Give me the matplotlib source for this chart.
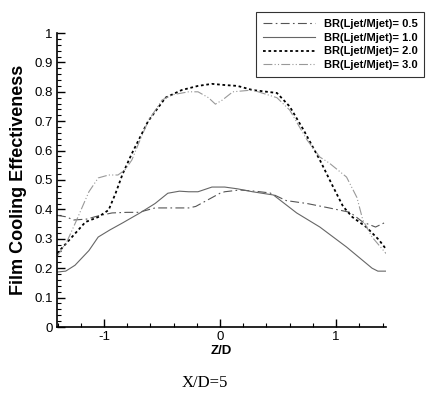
import matplotlib
matplotlib.use("Agg")
import matplotlib.pyplot as plt
from matplotlib.ticker import MultipleLocator, FuncFormatter

# ---- data ----
z_05 = [-1.405, -1.33, -1.26, -1.15, -1.05, -0.93, -0.80, -0.70, -0.56, -0.40, -0.27, -0.21,
        -0.14, -0.07, 0.0, 0.04, 0.17, 0.30, 0.43, 0.57, 0.75, 0.94, 1.12, 1.23, 1.34, 1.43]
e_05 = [0.38, 0.375, 0.364, 0.367, 0.378, 0.388, 0.39, 0.39, 0.405, 0.405, 0.405, 0.41,
        0.425, 0.44, 0.455, 0.46, 0.466, 0.462, 0.456, 0.43, 0.42, 0.405, 0.39, 0.357, 0.34, 0.357]

z_10 = [-1.405, -1.33, -1.25, -1.13, -1.05, -0.95, -0.84, -0.69, -0.56, -0.45, -0.35, -0.27,
        -0.19, -0.07, 0.04, 0.15, 0.28, 0.46, 0.66, 0.86, 1.09, 1.31, 1.36, 1.43]
e_10 = [0.187, 0.19, 0.21, 0.26, 0.306, 0.33, 0.354, 0.388, 0.42, 0.455, 0.462, 0.46,
        0.46, 0.476, 0.476, 0.47, 0.46, 0.449, 0.388, 0.34, 0.272, 0.20, 0.19, 0.19]

z_20 = [-1.405, -1.29, -1.16, -1.05, -0.96, -0.90, -0.84, -0.76, -0.62, -0.47, -0.33, -0.19,
        -0.07, 0.04, 0.15, 0.28, 0.49, 0.60, 0.72, 0.86, 0.97, 1.06, 1.14, 1.26, 1.37, 1.43]
e_20 = [0.25, 0.30, 0.357, 0.374, 0.398, 0.455, 0.52, 0.59, 0.70, 0.78, 0.806, 0.82,
        0.827, 0.823, 0.82, 0.806, 0.796, 0.75, 0.67, 0.568, 0.48, 0.41, 0.374, 0.34, 0.296, 0.265]

z_30 = [-1.405, -1.32, -1.24, -1.13, -1.05, -0.96, -0.88, -0.82, -0.76, -0.70, -0.62, -0.50,
        -0.41, -0.27, -0.19, -0.10, -0.04, 0.02, 0.11, 0.28, 0.49, 0.60, 0.75, 0.86, 0.94,
        1.09, 1.18, 1.23, 1.31, 1.43]
e_30 = [0.24, 0.29, 0.36, 0.46, 0.507, 0.517, 0.517, 0.534, 0.568, 0.626, 0.70, 0.772,
        0.79, 0.80, 0.80, 0.78, 0.758, 0.772, 0.80, 0.806, 0.78, 0.738, 0.636, 0.578, 0.558,
        0.51, 0.44, 0.364, 0.306, 0.25]

labels = ["BR(Ljet/Mjet)= 0.5", "BR(Ljet/Mjet)= 1.0", "BR(Ljet/Mjet)= 2.0", "BR(Ljet/Mjet)= 3.0"]
x_ticks = [-1, 0, 1]
y_ticks = [0, 0.1, 0.2, 0.3, 0.4, 0.5, 0.6, 0.7, 0.8, 0.9, 1.0]

plt.rcParams['font.family'] = ['Liberation Sans', 'DejaVu Sans']

fig = plt.figure(figsize=(4.26, 4.0), dpi=100)
ax = fig.add_axes([57/426, 1-327/400, (386-57)/426, (327-33)/400])

ax.plot(z_05, e_05, color='#555555', lw=0.8, dashes=[8, 3, 1.5, 3], label=labels[0])
ax.plot(z_10, e_10, color='#666666', lw=0.8, label=labels[1])
ax.plot(z_20, e_20, color='black', lw=1.3, dashes=[1.5, 1.5], label=labels[2])
ax.plot(z_30, e_30, color='#999999', lw=0.8, dashes=[8, 2, 1, 2, 1, 2], label=labels[3])

ax.set_xlim(-1.405, 1.43)
ax.set_ylim(0, 1)
ax.set_xticks(x_ticks)
ax.set_yticks(y_ticks)
ax.xaxis.set_minor_locator(MultipleLocator(0.2))
ax.yaxis.set_minor_locator(MultipleLocator(0.02))
ax.yaxis.set_major_formatter(FuncFormatter(lambda v, p: f"{v:g}"))
ax.xaxis.set_major_formatter(FuncFormatter(lambda v, p: f"{v:g}"))
ax.tick_params(which='major', direction='in', length=6, width=1.0, labelsize=9.5, pad=3)
ax.tick_params(which='minor', direction='in', length=3, width=0.8)
ax.spines['top'].set_visible(False)
ax.spines['right'].set_visible(False)
ax.spines['left'].set_linewidth(1.2)
ax.spines['bottom'].set_linewidth(1.2)

ax.set_xlabel("Z/D", fontsize=9.5, fontweight='bold', labelpad=1)
ax.set_ylabel("Film Cooling Effectiveness", fontsize=13, fontweight='bold', labelpad=5)

leg = fig.legend(loc='upper left', bbox_to_anchor=(256/426, 1-12/400),
                 prop={'weight': 'bold', 'size': 8}, frameon=True, fancybox=False,
                 edgecolor='black', handlelength=4.7, handletextpad=0.8,
                 labelspacing=0.35, borderpad=0.6, borderaxespad=0)
leg.get_frame().set_linewidth(0.8)

fig.text(205/426, 1-383/400, "X/D=5", ha='center', va='center',
         family='Liberation Serif', fontsize=12)

fig.savefig("out.png", dpi=100)
